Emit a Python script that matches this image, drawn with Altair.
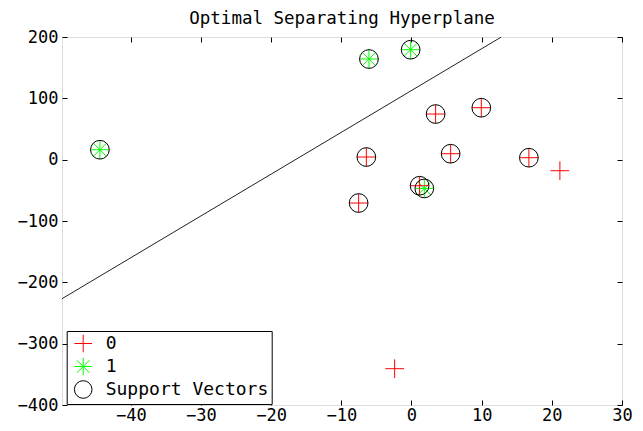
import altair as alt
import pandas as pd

# Points
xs = [-44.4, -6.06, -0.12, 1.83, -6.43, -7.53, 3.44, 9.95, 5.58, 16.73, 21.15, 1.16, -2.4]
ys = [16.2, 164.1, 179.3, -46.9, 4.3, -70.7, 74.4, 84.7, 9.7, 3.2, -18.0, -42.5, -340.8]
classes = ["1", "1", "1", "1", "0", "0", "0", "0", "0", "0", "0", "0", "0"]
is_sv = [True, True, True, True, True, True, True, True, True, True, False, True, False]

line_x = [-49.8, 12.8]
line_y = [-226.7, 200.0]

x_ticks = [-40, -30, -20, -10, 0, 10, 20, 30]
y_ticks = [-400, -300, -200, -100, 0, 100, 200]
x_domain = [-49.8, 30]
y_domain = [-400, 200]

labels = ["0", "1", "Support Vectors"]
colors = ["#ff0000", "#00ff00", "#000000"]
PLUS = "M-1,0L1,0M0,-1L0,1"
STAR = "M-1,0L1,0M0,-1L0,1M-0.7071,-0.7071L0.7071,0.7071M-0.7071,0.7071L0.7071,-0.7071"
shapes = [PLUS, STAR, "circle"]

rows = []
for x, y, c in zip(xs, ys, classes):
    rows.append({"x": x, "y": y, "label": c})
for x, y, s in zip(xs, ys, is_sv):
    if s:
        rows.append({"x": x, "y": y, "label": "Support Vectors"})
pts = pd.DataFrame(rows)
pts["order"] = range(len(pts))
line_df = pd.DataFrame({"x": line_x, "y": line_y})

FONT = "DejaVu Sans Mono"

xscale = alt.Scale(domain=x_domain, nice=False, zero=False)
yscale = alt.Scale(domain=y_domain, nice=False, zero=False)

def ax(orient, values, labels_on):
    kw = dict(orient=orient, values=values, tickSize=alt.ExprRef(expr="-5"), domain=False,
              grid=False, ticks=True, tickColor="black", tickWidth=1,
              labels=labels_on, title=None, labelFont=FONT, labelFontSize=17,
              labelColor="black", labelFlush=False, labelOverlap=False)
    if orient in ("bottom", "top"):
        kw["labelPadding"] = 7
    else:
        kw["labelPadding"] = 9
    return alt.Axis(**kw)

line = alt.Chart(line_df).mark_line(color="#222222", strokeWidth=1, clip=True).encode(
    x=alt.X("x:Q", scale=xscale, axis=ax("bottom", x_ticks, True)),
    y=alt.Y("y:Q", scale=yscale, axis=ax("left", y_ticks, True)),
)

legend = alt.Legend(
    orient="none", legendX=4.7, legendY=294, title=None,
    fillColor="white", strokeColor="black", padding=3, rowPadding=0,
    labelFont=FONT, labelFontSize=18, labelColor="black", labelOffset=13,
    labelLimit=400,
    symbolSize=310, symbolStrokeWidth=1, symbolOffset=4, cornerRadius=0,
)

points = alt.Chart(pts).mark_point(filled=False, size=350, strokeWidth=1, opacity=1).encode(
    x=alt.X("x:Q", scale=xscale, axis=ax("top", x_ticks, False)),
    y=alt.Y("y:Q", scale=yscale, axis=ax("right", y_ticks, False)),
    color=alt.Color("label:N", scale=alt.Scale(domain=labels, range=colors), legend=legend),
    shape=alt.Shape("label:N", scale=alt.Scale(domain=labels, range=shapes), legend=legend),
    order=alt.Order("order:Q"),
)

chart = alt.layer(line, points).resolve_axis(x="independent", y="independent").properties(
    width=560, height=368,
    title=alt.TitleParams("Optimal Separating Hyperplane", font=FONT, fontSize=17.5,
                          fontWeight="normal", color="black", offset=1, anchor="middle"),
    autosize=alt.AutoSizeParams(type="none"),
    padding={"left": 54, "top": 29, "right": 13, "bottom": 18},
).configure_view(stroke="black", strokeWidth=1).configure(background="white")

chart.save("out.html", embed_options={"renderer": "svg", "actions": False})
